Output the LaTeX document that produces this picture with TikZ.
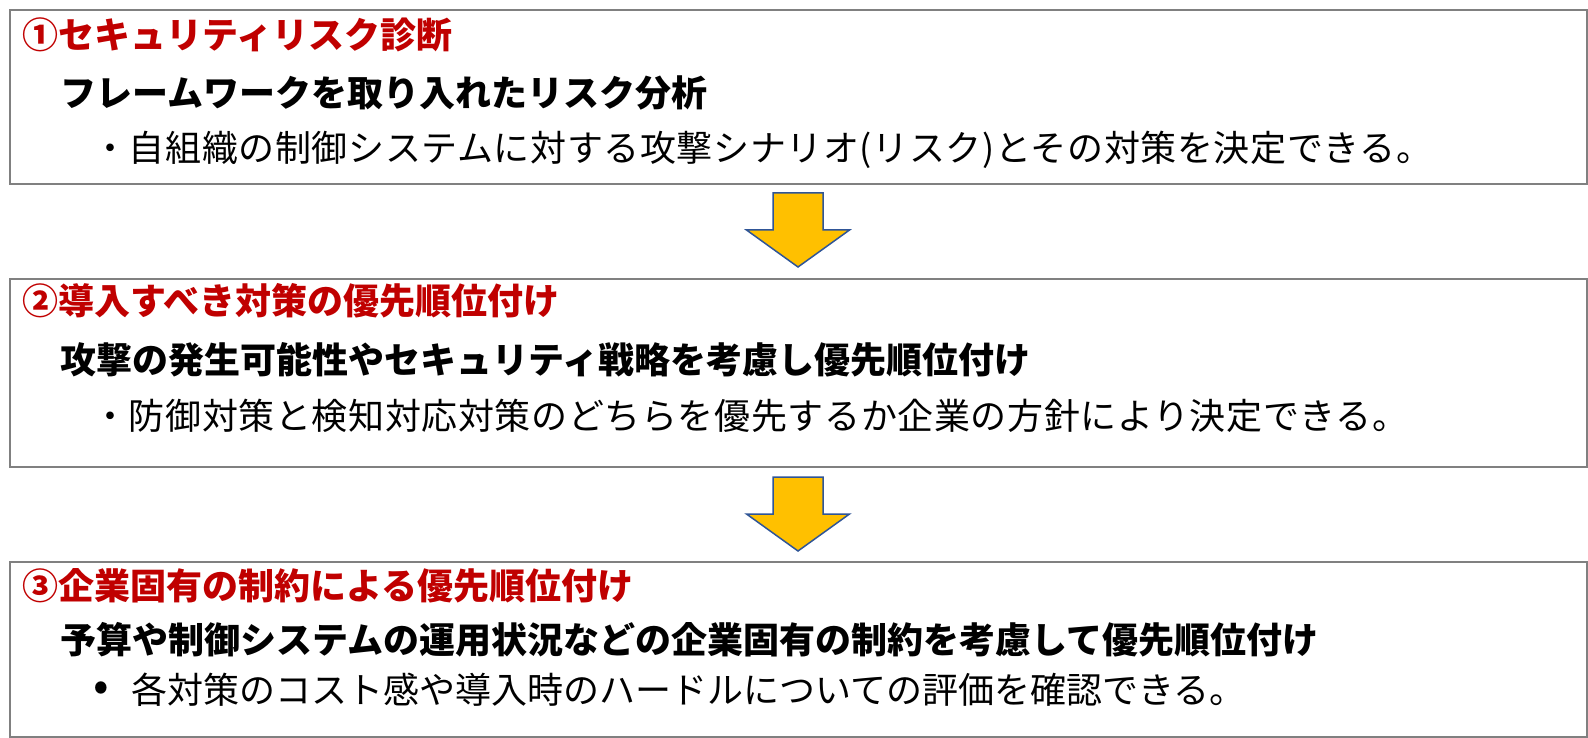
\documentclass[tikz,border=0pt]{standalone}
\usepackage{fontspec}
\newfontfamily\jpfont{Noto Sans CJK JP}
\newfontfamily\jpwidefont[LetterSpace=1.7]{Noto Sans CJK JP}
\definecolor{stepred}{RGB}{192,0,0}
\definecolor{arrowfill}{RGB}{255,192,0}
\definecolor{arrowline}{RGB}{47,85,151}
\begin{document}
\begin{tikzpicture}[x=1pt, y=-1pt,
    every node/.style={font=\jpfont\fontsize{36}{40}\selectfont, inner sep=0pt},
    panel/.style={draw=gray, line width=2pt, minimum width=1577pt},
    steptitle/.style={anchor=west, text=stepred, font=\jpfont\bfseries\fontsize{36}{40}\selectfont},
    stephead/.style={anchor=west, font=\jpfont\bfseries\fontsize{36}{40}\selectfont},
    stepnote/.style={anchor=west},
    widenote/.style={anchor=west, font=\jpwidefont\fontsize{36}{40}\selectfont},
    downarr/.pic={\draw[fill=arrowfill, draw=arrowline, line width=1.5pt, line join=miter]
      (-25,0) -- (25,0) -- (25,37) -- (51.5,37) -- (0,74) -- (-51.5,37) -- (-25,37) -- cycle;}]
    \useasboundingbox (0,0) rectangle (1588,738);

    % step 1
    \node[panel, minimum height=174pt] (box1) at (798,97) {};
    \node[steptitle] (title1) at (22,35) {①セキュリティリスク診断};
    \node[stephead] (head1) at (60,93) {フレームワークを取り入れたリスク分析};
    \node[widenote] (note1) at (92,150) {・自組織の制御システムに対する攻撃シナリオ(リスク)とその対策を決定できる。};

    \pic at (798,193) {downarr};

    % step 2
    \node[panel, minimum height=188pt] (box2) at (798,372.5) {};
    \node[steptitle] (title2) at (22,301) {②導入すべき対策の優先順位付け};
    \node[stephead] (head2) at (60,360) {攻撃の発生可能性やセキュリティ戦略を考慮し優先順位付け};
    \node[widenote] (note2) at (92,416) {・防御対策と検知対応対策のどちらを優先するか企業の方針により決定できる。};

    \pic at (798,477) {downarr};

    % step 3
    \node[panel, minimum height=175pt] (box3) at (798,649) {};
    \node[steptitle] (title3) at (22,586) {③企業固有の制約による優先順位付け};
    \node[stephead] (head3) at (60,640) {予算や制御システムの運用状況などの企業固有の制約を考慮して優先順位付け};
    \node[stepnote, anchor=center, font=\jpfont\fontsize{46}{46}\selectfont] (bullet3) at (101,692) {•};
    \node[stepnote] (note3) at (131,690) {各対策のコスト感や導入時のハードルについての評価を確認できる。};
\end{tikzpicture}
\end{document}
